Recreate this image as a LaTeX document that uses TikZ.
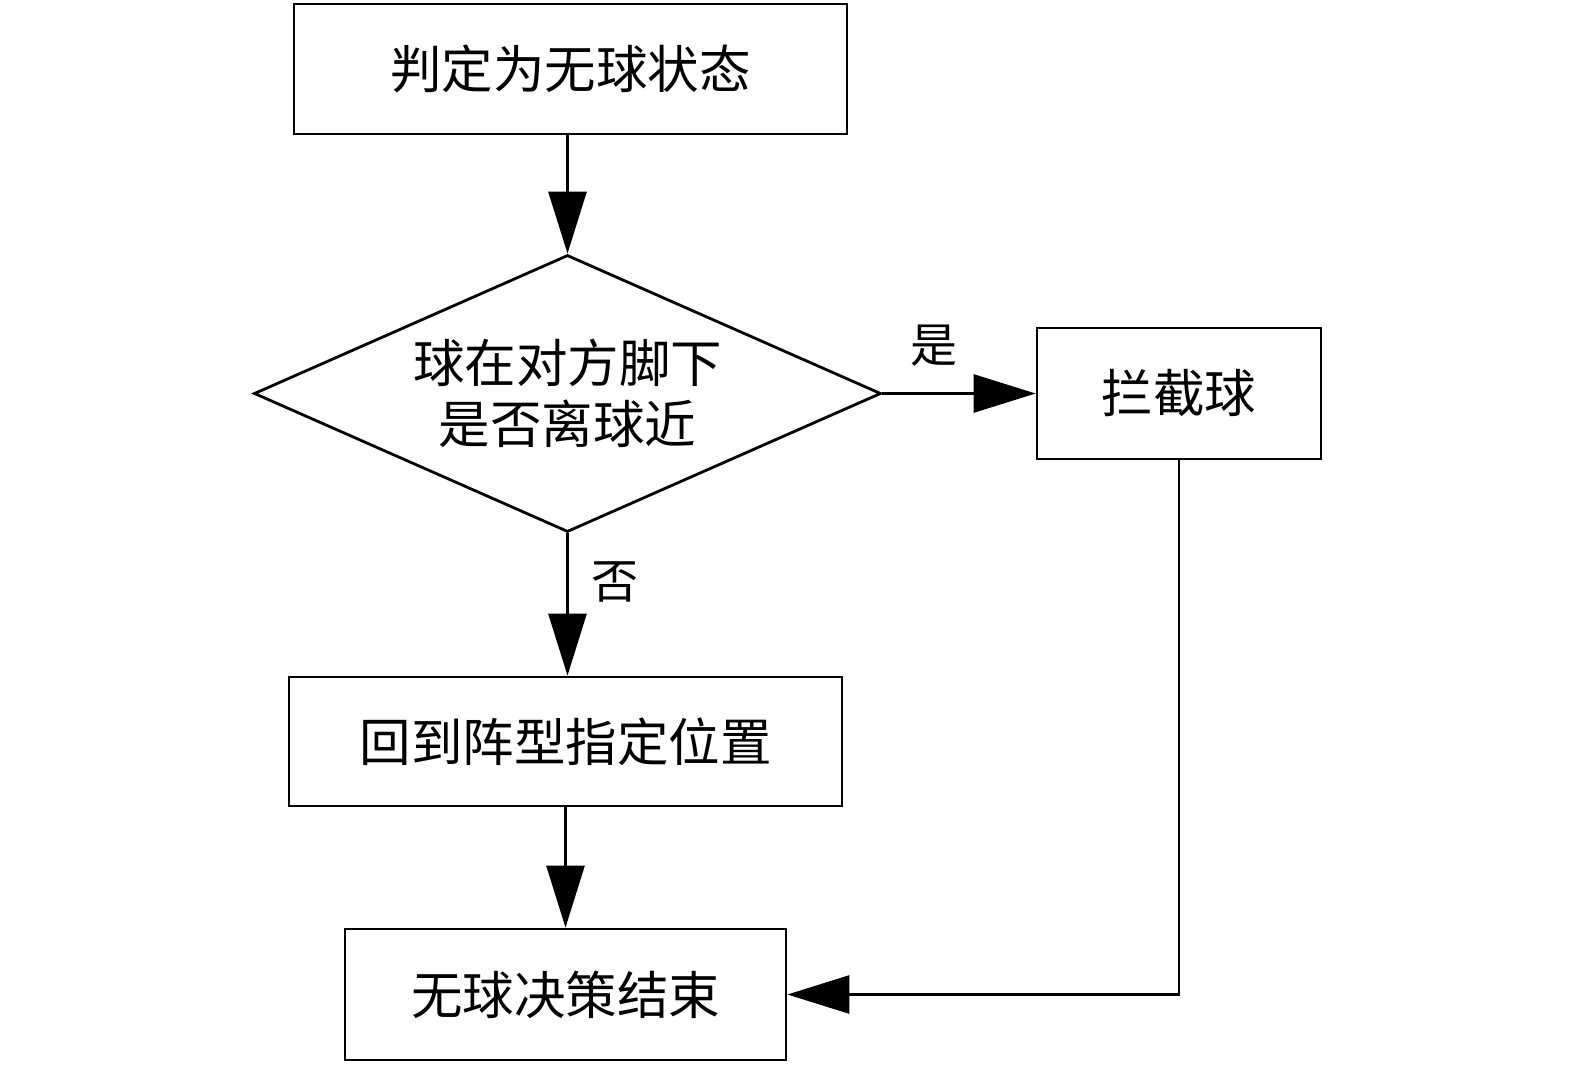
\documentclass[tikz,border=0pt]{standalone}
\usepackage{fontspec}
\newfontfamily\cjk{Noto Sans CJK SC}
\usetikzlibrary{shapes.geometric,arrows.meta}
\begin{document}
\begin{tikzpicture}[x=1pt,y=-1pt,
  box/.style={draw,line width=2.8pt,minimum width=#1,minimum height=130pt,inner sep=0pt,font=\cjk\fontsize{51.5}{61}\selectfont},
  arr/.style={line width=2.8pt,-{Triangle[length=62pt,width=38pt]}},
  lbl/.style={font=\cjk\fontsize{47}{50}\selectfont}]
\useasboundingbox (0,0) rectangle (1575,1065);
\node[box=553pt] (a) at (570.5,69) {判定为无球状态};
\node[draw,line width=2.8pt,shape=diamond,aspect=2.26,minimum width=627pt,minimum height=277pt,inner sep=0pt,align=center,font=\cjk\fontsize{51.5}{61}\selectfont] (d) at (567.5,393.5) {球在对方脚下\\是否离球近};
\node[box=284pt,minimum height=131pt] (c) at (1179,393.5) {拦截球};
\node[box=553pt,minimum height=129pt] (b) at (565.5,741.5) {回到阵型指定位置};
\node[box=441pt,minimum height=131pt] (e) at (565.5,994.5) {无球决策结束};
\draw[arr] (a.south -| d.north) -- (d.north);
\draw[arr] (d.east) -- (c.west);
\draw[arr] (d.south) -- (d.south |- b.north);
\draw[arr] (b.south) -- (e.north);
\draw[arr,line join=miter] (c.south) |- (e.east);
\node[lbl] (y) at (934,346) {是};
\node[lbl] (n) at (615,582) {否};
\end{tikzpicture}
\end{document}
